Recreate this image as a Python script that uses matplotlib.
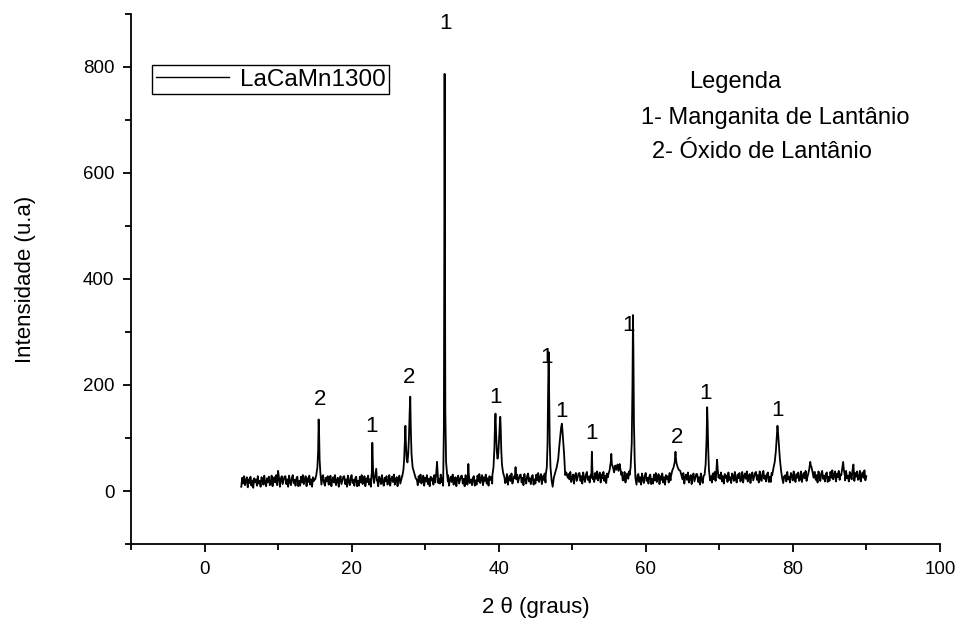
import numpy as np
import matplotlib
matplotlib.use("Agg")
import matplotlib.pyplot as plt
from matplotlib.ticker import MultipleLocator

plt.rcParams['font.family'] = ['Liberation Sans', 'DejaVu Sans']

# baseline of the scan, one value every 0.125 deg from 5.0 to 90.0 (16 values = 2 deg per row)
scan_start, scan_step = 5.0, 0.125
baseline = [
    8, 25, 14, 28, 11, 19, 26, 7, 22, 15, 27, 10, 20, 6, 24, 17,        # 5-7
    22, 10, 28, 14, 19, 8, 26, 21, 12, 29, 15, 9, 24, 17, 27, 11,       # 7-9
    14, 29, 9, 21, 26, 16, 30, 11, 38, 25, 8, 23, 28, 13, 20, 27,       # 9-11
    28, 13, 22, 8, 29, 18, 11, 25, 30, 15, 21, 10, 24, 27, 9, 19,       # 11-13
    10, 27, 16, 30, 13, 21, 28, 9, 24, 17, 29, 12, 22, 8, 26, 19,       # 13-15
    23, 11, 29, 15, 20, 9, 27, 22, 13, 30, 16, 10, 25, 18, 28, 12,      # 15-17
    14, 29, 9, 21, 26, 16, 30, 11, 19, 25, 8, 23, 28, 13, 20, 27,       # 17-19
    28, 13, 22, 8, 29, 18, 11, 25, 30, 15, 21, 10, 24, 27, 9, 19,       # 19-21
    10, 27, 16, 30, 13, 21, 28, 9, 24, 17, 29, 12, 22, 8, 26, 19,       # 21-23
    23, 11, 29, 15, 20, 9, 27, 22, 13, 30, 16, 10, 25, 18, 28, 12,      # 23-25
    15, 30, 10, 22, 27, 17, 31, 12, 20, 26, 9, 24, 29, 14, 21, 28,      # 25-27
    31, 16, 25, 11, 32, 21, 14, 28, 33, 18, 24, 13, 27, 30, 12, 22,     # 27-29
    11, 28, 17, 31, 14, 22, 29, 10, 25, 18, 30, 13, 23, 9, 27, 20,      # 29-31
    24, 12, 30, 16, 21, 10, 28, 23, 14, 31, 17, 11, 26, 19, 29, 13,     # 31-33
    15, 30, 10, 22, 27, 17, 31, 12, 20, 26, 9, 24, 29, 14, 21, 28,      # 33-35
    29, 14, 23, 9, 30, 19, 12, 26, 31, 16, 22, 11, 25, 28, 10, 20,      # 35-37
    12, 29, 18, 32, 15, 23, 30, 11, 26, 19, 31, 14, 24, 10, 28, 21,     # 37-39
    26, 14, 32, 18, 23, 12, 30, 25, 16, 33, 19, 13, 28, 21, 31, 15,     # 39-41
    17, 32, 12, 24, 29, 19, 33, 14, 22, 28, 11, 26, 31, 16, 23, 30,     # 41-43
    31, 16, 25, 11, 32, 21, 14, 28, 33, 18, 24, 13, 27, 30, 12, 22,     # 43-45
    14, 31, 20, 34, 17, 25, 32, 13, 28, 21, 33, 16, 26, 12, 30, 23,     # 45-47
    28, 16, 34, 20, 25, 14, 32, 27, 18, 35, 21, 15, 30, 23, 33, 17,     # 47-49
    20, 35, 15, 27, 32, 22, 36, 17, 25, 31, 14, 29, 34, 19, 26, 33,     # 49-51
    34, 19, 28, 14, 35, 24, 17, 31, 36, 21, 27, 16, 30, 33, 15, 25,     # 51-53
    17, 34, 23, 37, 20, 28, 35, 16, 31, 24, 36, 19, 29, 15, 33, 26,     # 53-55
    31, 19, 37, 23, 28, 17, 35, 30, 21, 38, 24, 18, 33, 26, 36, 20,     # 55-57
    21, 36, 16, 28, 33, 23, 37, 18, 26, 32, 15, 30, 35, 20, 27, 34,     # 57-59
    32, 17, 26, 12, 33, 22, 15, 29, 34, 19, 25, 14, 28, 31, 13, 23,     # 59-61
    14, 31, 20, 34, 17, 25, 32, 13, 28, 21, 33, 16, 26, 12, 30, 23,     # 61-63
    28, 16, 34, 20, 25, 14, 32, 27, 18, 35, 21, 15, 30, 23, 33, 17,     # 63-65
    19, 34, 14, 26, 31, 21, 35, 16, 24, 30, 13, 28, 33, 18, 25, 32,     # 65-67
    32, 17, 26, 12, 33, 22, 15, 29, 34, 19, 25, 14, 28, 31, 13, 23,     # 67-69
    16, 33, 22, 36, 19, 27, 34, 15, 30, 23, 35, 18, 28, 14, 32, 25,     # 69-71
    29, 17, 35, 21, 26, 15, 33, 28, 19, 36, 22, 16, 31, 24, 34, 18,     # 71-73
    21, 36, 16, 28, 33, 23, 37, 18, 26, 32, 15, 30, 35, 20, 27, 34,     # 73-75
    36, 21, 30, 16, 37, 26, 19, 33, 38, 23, 29, 18, 32, 35, 17, 27,     # 75-77
    17, 34, 23, 37, 20, 28, 35, 16, 31, 24, 36, 19, 29, 15, 33, 26,     # 77-79
    30, 18, 36, 22, 27, 16, 34, 29, 20, 37, 23, 17, 32, 25, 35, 19,     # 79-81
    22, 37, 17, 29, 34, 24, 38, 19, 27, 33, 16, 31, 36, 21, 28, 35,     # 81-83
    36, 21, 30, 16, 37, 26, 19, 33, 38, 23, 29, 18, 32, 35, 17, 27,     # 83-85
    19, 36, 25, 39, 22, 30, 37, 18, 33, 26, 38, 21, 31, 17, 35, 28,     # 85-87
    32, 20, 38, 24, 29, 18, 36, 31, 22, 39, 50, 19, 34, 27, 37, 21,     # 87-89
    23, 38, 18, 30, 35, 25, 39, 20, 28,                                 # 89-90
]

# peaks (two_theta, intensity), read point by point
peaks = [
    ([15.05, 15.2, 15.35, 15.45, 15.52, 15.58, 15.65, 15.75, 15.9, 16.05],
     [22, 30, 45, 75, 135, 110, 60, 35, 12, 28]),
    ([22.65, 22.75, 22.82, 22.88, 22.95, 23.05, 23.2, 23.35, 23.45],
     [20, 35, 91, 60, 25, 15, 28, 42, 20]),
    ([26.9, 27.05, 27.15, 27.25, 27.32, 27.4, 27.5, 27.6, 27.7, 27.8, 27.9, 27.98, 28.05,
      28.15, 28.3, 28.5, 28.7, 28.9],
     [28, 40, 60, 95, 123, 85, 60, 54, 70, 100, 150, 178, 120, 70, 45, 35, 25, 20]),
    ([31.45, 31.55, 31.62, 31.7, 31.8],
     [25, 40, 55, 35, 15]),
    ([32.3, 32.45, 32.55, 32.6, 32.65, 32.7, 32.75, 32.85, 33.0, 33.1],
     [25, 10, 120, 400, 787, 420, 150, 55, 30, 18]),
    ([35.8, 35.88, 35.95, 36.05],
     [20, 51, 30, 15]),
    ([39.15, 39.3, 39.42, 39.5, 39.57, 39.65, 39.75, 39.85, 39.95, 40.05, 40.15, 40.22,
      40.28, 40.35, 40.45, 40.6, 40.8],
     [30, 45, 80, 125, 146, 110, 75, 61, 70, 95, 125, 140, 120, 80, 50, 35, 25]),
    ([42.2, 42.3, 42.4],
     [25, 45, 22]),
    ([46.4, 46.55, 46.65, 46.72, 46.8, 46.88, 46.95, 47.05, 47.2, 47.35, 47.5, 47.7, 47.9,
      48.1, 48.25, 48.4, 48.5, 48.6, 48.7, 48.8, 48.9, 49.05, 49.2, 49.4],
     [30, 45, 90, 180, 262, 170, 90, 45, 20, 8, 25, 35, 45, 60, 85, 105, 120, 127, 110,
      90, 70, 30, 35, 25]),
    ([52.6, 52.68, 52.75, 52.85],
     [25, 74, 40, 22]),
    ([54.9, 55.1, 55.25, 55.32, 55.4, 55.55, 55.7, 55.85, 56.0, 56.15, 56.3, 56.45, 56.55,
      56.7],
     [30, 40, 55, 70, 50, 45, 35, 48, 40, 50, 38, 51, 42, 30]),
    ([57.8, 57.95, 58.1, 58.2, 58.27, 58.33, 58.4, 58.5, 58.6, 58.75, 58.9],
     [30, 45, 90, 200, 332, 260, 130, 60, 25, 12, 30]),
    ([63.4, 63.6, 63.8, 63.95, 64.05, 64.12, 64.2, 64.35, 64.5, 64.7, 64.85, 65.0],
     [25, 38, 45, 55, 74, 60, 52, 45, 40, 38, 30, 22]),
    ([68.0, 68.15, 68.28, 68.36, 68.42, 68.5, 68.6, 68.75, 68.9],
     [30, 50, 100, 158, 130, 80, 40, 20, 28]),
    ([69.6, 69.7, 69.8, 69.9],
     [35, 59, 40, 25]),
    ([77.2, 77.4, 77.55, 77.7, 77.82, 77.92, 78.0, 78.1, 78.25, 78.4, 78.55, 78.7, 78.85],
     [30, 45, 55, 75, 100, 123, 110, 90, 60, 40, 25, 15, 28]),
    ([82.1, 82.25, 82.38, 82.45, 82.55, 82.7, 82.85],
     [32, 42, 55, 48, 45, 35, 25]),
    ([86.6, 86.75, 86.85, 86.95, 87.1],
     [30, 45, 55, 40, 28]),
]

# phase marks above the peaks
mark_x = [15.65, 22.7, 27.75, 32.8, 39.6, 46.5, 48.6, 52.65, 57.7, 64.2, 68.2, 77.95]
mark_y = [172, 121, 214, 883, 176, 252, 150, 108, 313, 100, 184, 152]
mark_txt = ['2', '1', '2', '1', '1', '1', '1', '1', '1', '2', '1', '1']

legend_lines = ['Legenda', '1- Manganita de Lantânio', '2- Óxido de Lantânio']
legend_x = [65.85, 59.3, 60.8]
legend_y = [772, 703, 639]

# merge baseline and peaks
base_y = np.array(baseline, dtype=float)
base_x = scan_start + scan_step * np.arange(len(base_y))
keep = np.ones(len(base_x), bool)
for px, py in peaks:
    keep &= ~((base_x >= px[0]) & (base_x <= px[-1]))
two_theta = np.concatenate([base_x[keep]] + [np.array(p[0]) for p in peaks])
intensity = np.concatenate([base_y[keep]] + [np.array(p[1], float) for p in peaks])
order = np.argsort(two_theta)
two_theta, intensity = two_theta[order], intensity[order]

fig = plt.figure(figsize=(9.59, 6.22), dpi=100)
ax = fig.add_axes([0.1366, 0.1254, 0.8434, 0.8521])
ax.plot(two_theta, intensity, color='black', lw=1.3, label='LaCaMn1300')

ax.set_xlim(-10, 100)
ax.set_ylim(-100, 900)
ax.xaxis.set_major_locator(MultipleLocator(20))
ax.xaxis.set_minor_locator(MultipleLocator(10))
ax.yaxis.set_major_locator(MultipleLocator(200))
ax.yaxis.set_minor_locator(MultipleLocator(100))
ax.set_yticks([0, 200, 400, 600, 800])
ax.spines['top'].set_visible(False)
ax.spines['right'].set_visible(False)
for s in ['left', 'bottom']:
    ax.spines[s].set_linewidth(1.3)
ax.tick_params(which='major', direction='out', length=6, width=1.3, labelsize=13.5, pad=6)
ax.tick_params(which='minor', direction='out', length=4, width=1.3)

ax.set_xlabel('2 θ (graus)', fontsize=16, labelpad=14)
ax.set_ylabel('Intensidade (u.a)', fontsize=16, labelpad=34)

for x, y, t in zip(mark_x, mark_y, mark_txt):
    ax.text(x, y, t, fontsize=16, ha='center', va='center')

for x, y, t in zip(legend_x, legend_y, legend_lines):
    ax.text(x, y, t, fontsize=17, ha='left', va='center')

leg = ax.legend(loc='upper left', bbox_to_anchor=(0.026, 0.904), borderaxespad=0,
                fontsize=17.5, handlelength=3.0, handletextpad=0.45, borderpad=0.15,
                fancybox=False, framealpha=1, edgecolor='black')
leg.get_frame().set_linewidth(1.0)
for h in leg.get_lines():
    h.set_linewidth(1.0)

fig.savefig('out.png', dpi=100)
